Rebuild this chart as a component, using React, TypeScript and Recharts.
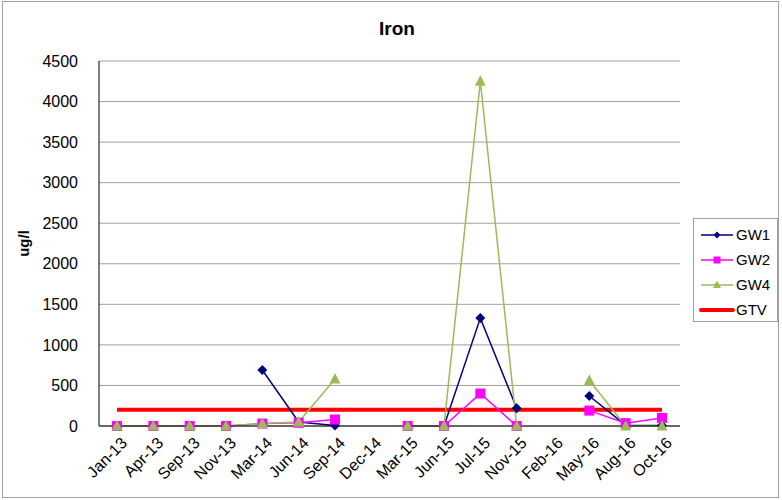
import React from "react";
import {
  LineChart,
  Line,
  XAxis,
  YAxis,
  CartesianGrid,
  Label,
} from "recharts";

const months = [
  "Jan-13", "Apr-13", "Sep-13", "Nov-13", "Mar-14", "Jun-14", "Sep-14", "Dec-14",
  "Mar-15", "Jun-15", "Jul-15", "Nov-15", "Feb-16", "May-16", "Aug-16", "Oct-16",
];
const gw1 = [null, null, null, null, 690, 50, 5, null, 0, 0, 1330, 220, null, 370, 10, 5];
const gw2 = [0, 0, 0, 0, 30, 40, 80, null, 0, 0, 400, 0, null, 190, 35, 100];
const gw4 = [0, 0, 0, 0, 30, 50, 580, null, 0, 0, 4250, 0, null, 560, 0, 0];
const gtv = [200, 200, 200, 200, 200, 200, 200, 200, 200, 200, 200, 200, 200, 200, 200, 200];
const yTicks = [0, 500, 1000, 1500, 2000, 2500, 3000, 3500, 4000, 4500];

const data = months.map((m, i) => ({
  month: m,
  GW1: gw1[i],
  GW2: gw2[i],
  GW4: gw4[i],
  GTV: gtv[i],
}));

const FONT = "'Liberation Sans', Arial, sans-serif";

const Diamond = (props: any) => {
  const { cx, cy, payload } = props;
  if (cx == null || cy == null || payload.GW1 == null) return null;
  const r = 5;
  return (
    <path
      d={`M${cx},${cy - r} L${cx + r},${cy} L${cx},${cy + r} L${cx - r},${cy} Z`}
      fill="#000080"
    />
  );
};

const Square = (props: any) => {
  const { cx, cy, payload } = props;
  if (cx == null || cy == null || payload.GW2 == null) return null;
  return <rect x={cx - 5} y={cy - 5} width={10} height={10} fill="#FF00FF" />;
};

const Triangle = (props: any) => {
  const { cx, cy, payload } = props;
  if (cx == null || cy == null || payload.GW4 == null) return null;
  return (
    <path
      d={`M${cx},${cy - 6} L${cx + 5.5},${cy + 4.5} L${cx - 5.5},${cy + 4.5} Z`}
      fill="#9BBB59"
    />
  );
};

const XTick = (props: any) => {
  const { x, y, payload } = props;
  return (
    <g transform={`translate(${x + 4},${y + 3})`}>
      <text
        transform="rotate(-45)"
        textAnchor="end"
        fontSize={16}
        fontFamily={FONT}
        fill="#000"
        dy={10}
      >
        {payload.value}
      </text>
    </g>
  );
};

const legendItems = [
  { name: "GW1", color: "#000080", shape: "diamond" },
  { name: "GW2", color: "#FF00FF", shape: "square" },
  { name: "GW4", color: "#9BBB59", shape: "triangle" },
  { name: "GTV", color: "#FF0000", shape: "none" },
];

const LegendBox = () => (
  <div
    style={{
      position: "absolute",
      left: 693,
      top: 218,
      border: "1px solid #A0A0A0",
      width: 85,
      height: 104,
      boxSizing: "border-box",
      background: "#fff",
      paddingTop: 3,
    }}
  >
    {legendItems.map((it) => (
      <div
        key={it.name}
        style={{ display: "flex", alignItems: "center", height: 25, marginLeft: 5 }}
      >
        <svg width={36} height={12}>
          <line
            x1={2}
            x2={34}
            y1={6}
            y2={6}
            stroke={it.color}
            strokeWidth={it.shape === "none" ? 4 : 1.5}
            strokeLinecap={it.shape === "none" ? "round" : "butt"}
          />
          {it.shape === "diamond" && (
            <path d="M18,2.5 L21.5,6 L18,9.5 L14.5,6 Z" fill={it.color} />
          )}
          {it.shape === "square" && <rect x={14.5} y={2.5} width={7} height={7} fill={it.color} />}
          {it.shape === "triangle" && <path d="M18,1.5 L22,9 L14,9 Z" fill={it.color} />}
        </svg>
        <span style={{ fontFamily: FONT, fontSize: 15, color: "#000", marginLeft: 1 }}>
          {it.name}
        </span>
      </div>
    ))}
  </div>
);

export default function App() {
  return (
    <div style={{ position: "absolute", left: 0, top: 0, width: 782, height: 500, background: "#fff" }}>
      <div
        style={{
          position: "absolute",
          left: 2,
          top: 1,
          width: 777,
          height: 497,
          border: "1px solid #A0A0A0",
          boxSizing: "border-box",
        }}
      />
      <div
        style={{
          position: "absolute",
          left: 6,
          width: 782,
          top: 18,
          textAlign: "center",
          fontFamily: FONT,
          fontWeight: "bold",
          fontSize: 19,
        }}
      >
        Iron
      </div>
      <div style={{ position: "absolute", left: 0, top: 0 }}>
        <LineChart
          width={782}
          height={500}
          data={data}
          margin={{ top: 61, right: 102, bottom: 0, left: 0 }}
        >
          <CartesianGrid vertical={false} stroke="#A0A0A0" />
          <XAxis
            dataKey="month"
            interval={0}
            padding={{ left: 18, right: 18 }}
            tick={<XTick />}
            tickLine={false}
            axisLine={{ stroke: "#000" }}
            height={74}
          />
          <YAxis
            domain={[0, 4500]}
            ticks={yTicks}
            width={99}
            tickLine={false}
            axisLine={{ stroke: "#000" }}
            tick={{ fill: "#000", fontSize: 16, fontFamily: FONT }}
            tickMargin={15}
          >
            <Label
              value="ug/l"
              angle={-90}
              position="insideLeft"
              offset={24}
              style={{ fontFamily: FONT, fontSize: 15, fontWeight: "bold", fill: "#000", textAnchor: "middle" }}
            />
          </YAxis>
          <Line
            dataKey="GTV"
            stroke="#FF0000"
            strokeWidth={4}
            dot={false}
            activeDot={false}
            isAnimationActive={false}
          />
          <Line
            dataKey="GW1"
            stroke="#000080"
            strokeWidth={1.5}
            dot={<Diamond />}
            activeDot={false}
            isAnimationActive={false}
          />
          <Line
            dataKey="GW2"
            stroke="#FF00FF"
            strokeWidth={1.5}
            dot={<Square />}
            activeDot={false}
            isAnimationActive={false}
          />
          <Line
            dataKey="GW4"
            stroke="#9BBB59"
            strokeWidth={1.5}
            dot={<Triangle />}
            activeDot={false}
            isAnimationActive={false}
          />
        </LineChart>
      </div>
      <LegendBox />
    </div>
  );
}
